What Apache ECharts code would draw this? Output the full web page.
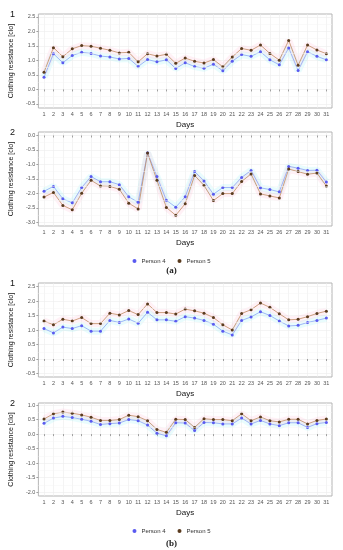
<!DOCTYPE html>
<html><head><meta charset="utf-8">
<script src="https://cdn.jsdelivr.net/npm/echarts@6/dist/echarts.min.js"></script>
<style>html,body{margin:0;padding:0;background:#fff}#c{width:343px;height:550px}</style>
</head><body><div id="c"></div>
<script>
const days = [1,2,3,4,5,6,7,8,9,10,11,12,13,14,15,16,17,18,19,20,21,22,23,24,25,26,27,28,29,30,31];

// Panel (a) 1
const a1_person4 = [0.42,1.23,0.92,1.17,1.28,1.24,1.15,1.12,1.05,1.07,0.79,1.03,0.95,1.02,0.72,0.92,0.79,0.73,0.87,0.64,0.97,1.20,1.14,1.30,1.02,0.85,1.43,0.65,1.30,1.14,1.02];
const a1_person5 = [0.59,1.44,1.13,1.40,1.51,1.49,1.42,1.35,1.26,1.28,0.95,1.23,1.15,1.21,0.90,1.08,0.97,0.91,1.03,0.78,1.12,1.41,1.35,1.53,1.24,1.01,1.69,0.83,1.53,1.36,1.23];
// Panel (a) 2
const a2_person4 = [-1.93,-1.76,-2.19,-2.33,-1.80,-1.42,-1.60,-1.60,-1.70,-2.12,-2.31,-0.60,-1.42,-2.24,-2.48,-2.12,-1.25,-1.57,-2.03,-1.80,-1.80,-1.45,-1.21,-1.81,-1.87,-1.95,-1.07,-1.13,-1.21,-1.20,-1.61];
const a2_person5 = [-2.13,-1.97,-2.42,-2.57,-2.00,-1.55,-1.75,-1.76,-1.86,-2.34,-2.54,-0.61,-1.55,-2.49,-2.76,-2.36,-1.38,-1.73,-2.25,-2.01,-2.01,-1.59,-1.33,-2.02,-2.09,-2.16,-1.16,-1.25,-1.34,-1.30,-1.75];
// Panel (b) 1
const b1_person4 = [1.05,0.90,1.10,1.05,1.15,0.96,0.96,1.33,1.26,1.38,1.23,1.61,1.35,1.35,1.30,1.46,1.41,1.33,1.20,0.96,0.83,1.33,1.45,1.63,1.50,1.31,1.14,1.16,1.26,1.33,1.41];
const b1_person5 = [1.31,1.18,1.37,1.31,1.43,1.22,1.22,1.58,1.52,1.67,1.53,1.90,1.60,1.60,1.55,1.72,1.66,1.58,1.43,1.18,1.00,1.57,1.70,1.93,1.78,1.56,1.35,1.37,1.46,1.57,1.65];
// Panel (b) 2
const b2_person4 = [0.37,0.55,0.61,0.57,0.51,0.44,0.33,0.36,0.38,0.50,0.46,0.31,0.03,-0.06,0.39,0.38,0.12,0.40,0.39,0.35,0.35,0.55,0.35,0.47,0.35,0.29,0.39,0.39,0.23,0.36,0.40];
const b2_person5 = [0.52,0.70,0.76,0.72,0.66,0.58,0.47,0.47,0.50,0.65,0.60,0.46,0.16,0.06,0.51,0.50,0.23,0.53,0.50,0.50,0.46,0.70,0.46,0.59,0.46,0.42,0.51,0.51,0.35,0.47,0.52];

const ticks_a1 = [-0.5,0,0.5,1,1.5,2,2.5];
const ticks_a2 = [-3,-2.5,-2,-1.5,-1,-0.5,0];
const ticks_b1 = [-0.5,0,0.5,1,1.5,2,2.5];
const ticks_b2 = [-2,-1.5,-1,-0.5,0,0.5,1];
const minor_a1 = [-0.25,0.25,0.75,1.25,1.75,2.25];
const minor_a2 = [-2.75,-2.25,-1.75,-1.25,-0.75,-0.25];
const minor_b1 = [-0.25,0.25,0.75,1.25,1.75,2.25];
const minor_b2 = [-1.75,-1.25,-0.75,-0.25,0.25,0.75];

const yTitle = 'Clothing resistance [clo]';
const xTitle = 'Days';
const seriesNames = ['Person 4','Person 5'];

const panels = [
  {p4:a1_person4, p5:a1_person5, ticks:ticks_a1, minor:minor_a1, min:-0.64, max:2.6, grid:{left:33, top:14, width:299, height:94}},
  {p4:a2_person4, p5:a2_person5, ticks:ticks_a2, minor:minor_a2, min:-3.13, max:0.12, grid:{left:33, top:132, width:299, height:94}},
  {p4:b1_person4, p5:b1_person5, ticks:ticks_b1, minor:minor_b1, min:-0.62, max:2.62, grid:{left:33, top:283, width:299, height:94}},
  {p4:b2_person4, p5:b2_person5, ticks:ticks_b2, minor:minor_b2, min:-2.13, max:1.07, grid:{left:33, top:403, width:299, height:93}}
];

const C4 = '#5a5af0', C4line = '#8aa6f5', C5 = '#5a3b1e', C5line = '#c08a62';
const fontFam = '"Liberation Sans", Arial, sans-serif';

const grid = [], xAxis = [], yAxis = [], series = [];
panels.forEach((p, i) => {
  grid.push(Object.assign({show:true, borderColor:'#b5b5b5', borderWidth:1, backgroundColor:'#fff'}, p.grid));
  xAxis.push({
    type:'value', gridIndex:i, min:0.4, max:31.6,
    name:xTitle, nameLocation:'middle', nameGap:13,
    nameTextStyle:{fontSize:8, color:'#111', fontFamily:fontFam},
    axisLine:{show:false},
    axisTick:{show:true, length:2, lineStyle:{color:'#666', width:0.6}, customValues:days},
    axisLabel:{fontSize:5.5, color:'#555', margin:3, fontFamily:fontFam, customValues:days},
    splitLine:{show:true, lineStyle:{color:'#ececec', width:0.6}},
    minorSplitLine:{show:false}
  });
  yAxis.push({
    type:'value', gridIndex:i, min:p.min, max:p.max,
    name:yTitle, nameLocation:'middle', nameGap:17,
    nameTextStyle:{fontSize:7, color:'#111', fontFamily:fontFam},
    axisLine:{show:false},
    axisTick:{show:true, length:2, lineStyle:{color:'#666', width:0.6}, customValues:p.ticks},
    axisLabel:{fontSize:5.5, color:'#555', margin:3, fontFamily:fontFam, customValues:p.ticks,
      formatter:(v)=>Number(v).toFixed(1)},
    splitLine:{show:true, lineStyle:{color:'#ececec', width:0.6}}
  });
  series.push({
    type:'line', xAxisIndex:i, yAxisIndex:i, data:[], z:1, silent:true,
    markLine:{silent:true, symbol:['none','none'], label:{show:false},
      lineStyle:{color:'#f4f4f4', width:0.5, type:'solid'},
      data:p.minor.map(v=>({yAxis:v}))}
  });
  [['p4', seriesNames[0], C4, C4line, 'rgba(120,235,240,0.16)'], ['p5', seriesNames[1], C5, C5line, 'rgba(255,170,200,0.16)']].forEach(([k, nm, c, lc, bc]) => {
    series.push({
      type:'line', xAxisIndex:i, yAxisIndex:i, silent:true, z:2,
      data: days.map((d, j) => [d, p[k][j]]),
      symbol:'none', lineStyle:{color:bc, width:7}, tooltip:{show:false}
    });
    series.push({
      name:nm, type:'line', xAxisIndex:i, yAxisIndex:i, z:3,
      data: days.map((d, j) => [d, p[k][j]]),
      symbol:'circle', symbolSize:3,
      itemStyle:{color:c}, lineStyle:{color:lc, width:0.8}
    });
  });
});

const chart = echarts.init(document.getElementById('c'), null, {renderer:'canvas'});
chart.setOption({
  animation:false,
  backgroundColor:'#fff',
  title:[
    {text:'1', left:5, top:5, textStyle:{fontSize:9, fontWeight:'normal', color:'#111', fontFamily:fontFam}},
    {text:'2', left:5, top:123, textStyle:{fontSize:9, fontWeight:'normal', color:'#111', fontFamily:fontFam}},
    {text:'(a)', left:'center', top:261, textStyle:{fontSize:9, fontWeight:'bold', color:'#222', fontFamily:'"Liberation Serif", serif'}},
    {text:'1', left:5, top:274, textStyle:{fontSize:9, fontWeight:'normal', color:'#111', fontFamily:fontFam}},
    {text:'2', left:5, top:394, textStyle:{fontSize:9, fontWeight:'normal', color:'#111', fontFamily:fontFam}},
    {text:'(b)', left:'center', top:534, textStyle:{fontSize:9, fontWeight:'bold', color:'#222', fontFamily:'"Liberation Serif", serif'}}
  ],
  legend:[
    {data:seriesNames, left:'center', top:253, icon:'circle', itemWidth:4, itemHeight:4, itemGap:12,
      textStyle:{fontSize:6, color:'#333', fontFamily:fontFam}},
    {data:seriesNames, left:'center', top:523, icon:'circle', itemWidth:4, itemHeight:4, itemGap:12,
      textStyle:{fontSize:6, color:'#333', fontFamily:fontFam}}
  ],
  grid, xAxis, yAxis, series
});
</script></body></html>
